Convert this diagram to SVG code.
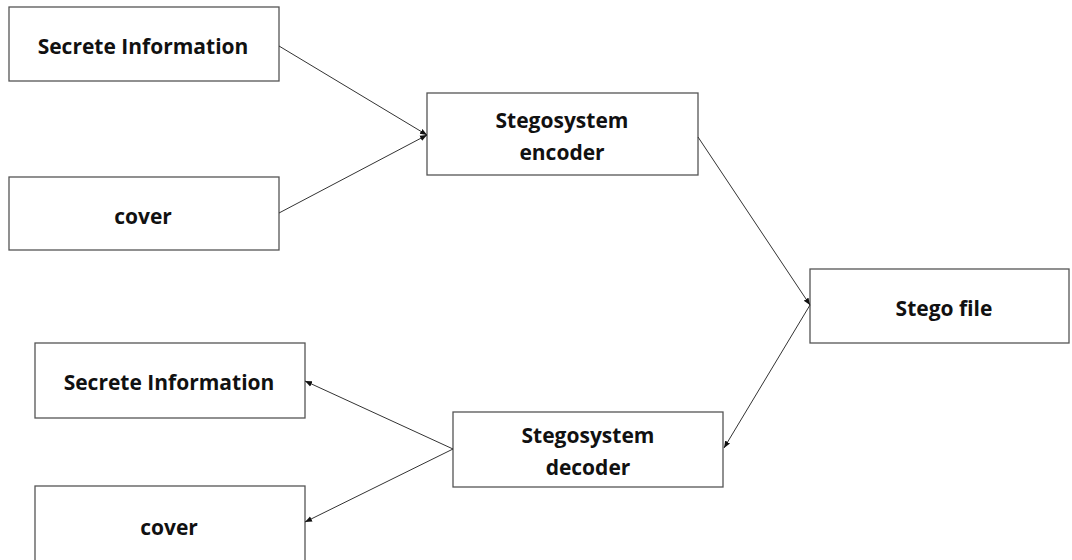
<svg xmlns="http://www.w3.org/2000/svg" width="1072" height="560" viewBox="0 0 1072 560">
<style>
.box{fill:#fff;stroke:#555;stroke-width:1.3}
.t{font-family:"Open Sans","Liberation Sans",sans-serif;font-weight:bold;font-size:21px;fill:#111;text-anchor:middle;dominant-baseline:central}
.c{stroke:#333;stroke-width:1;fill:none;marker-end:url(#ah)}
</style>
<defs>
<marker id="ah" viewBox="0 0 10 10" refX="10" refY="5" markerWidth="7" markerHeight="7" markerUnits="userSpaceOnUse" orient="auto">
<path d="M0,1 L10,5 L0,9 z" fill="#111"/>
</marker>
</defs>
<rect width="1072" height="560" fill="#fff"/>
<g id="secret-top"><rect class="box" x="9" y="7" width="270" height="74"/><text class="t" x="143" y="46">Secrete Information</text></g>
<g id="cover-top"><rect class="box" x="9" y="177" width="270" height="73"/><text class="t" x="143" y="216">cover</text></g>
<g id="encoder"><rect class="box" x="427" y="93" width="271" height="82"/><text class="t" x="562" y="120">Stegosystem</text><text class="t" x="562" y="152">encoder</text></g>
<g id="stego-file"><rect class="box" x="810" y="269" width="259" height="74"/><text class="t" x="944" y="308">Stego file</text></g>
<g id="secret-bottom"><rect class="box" x="35" y="343" width="270" height="75"/><text class="t" x="169" y="382">Secrete Information</text></g>
<g id="cover-bottom"><rect class="box" x="35" y="486" width="270" height="80"/><text class="t" x="169" y="527">cover</text></g>
<g id="decoder"><rect class="box" x="453" y="412" width="270" height="75"/><text class="t" x="588" y="435">Stegosystem</text><text class="t" x="588" y="467">decoder</text></g>
<g id="connectors">
<line class="c" x1="279" y1="46" x2="427" y2="135"/>
<line class="c" x1="279" y1="213" x2="427" y2="135"/>
<line class="c" x1="698" y1="137" x2="810" y2="305"/>
<line class="c" x1="810" y1="305" x2="724" y2="448"/>
<line class="c" x1="453" y1="449" x2="305" y2="381"/>
<line class="c" x1="453" y1="449" x2="305" y2="522"/>
</g>
</svg>
